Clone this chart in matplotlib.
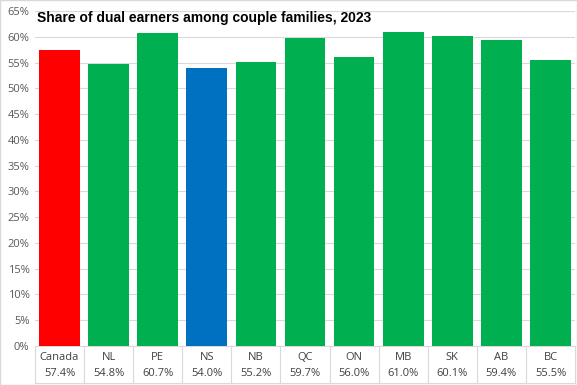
import numpy as np
import matplotlib.pyplot as plt
from matplotlib.ticker import PercentFormatter

regions = ['Canada', 'NL', 'PE', 'NS', 'NB', 'QC', 'ON', 'MB', 'SK', 'AB', 'BC']
share = [57.4, 54.8, 60.7, 54.0, 55.2, 59.7, 56.0, 61.0, 60.1, 59.4, 55.5]

colors = ['#00B050'] * len(regions)
colors[0] = '#FF0000'
colors[3] = '#0070C0'

plt.rcParams['font.family'] = ['Open Sans', 'DejaVu Sans']

fig = plt.figure(figsize=(5.77, 3.85), dpi=100)
ax = fig.add_axes([35 / 577, 1 - 346 / 385, 540 / 577, 335 / 385])

x = np.arange(len(regions))
ax.bar(x, share, width=0.83, color=colors, zorder=3)

ax.set_xlim(-0.5, len(regions) - 0.5)
ax.set_ylim(0, 65)
ax.set_yticks(np.arange(0, 66, 5))
ax.yaxis.set_major_formatter(PercentFormatter(decimals=0))
ax.tick_params(axis='y', length=0, labelsize=8, labelcolor='#595959', pad=4)
ax.set_xticks([])
ax.grid(axis='y', color='#D9D9D9', linewidth=0.8, zorder=0)
for s in ['top', 'right', 'left']:
    ax.spines[s].set_visible(False)
ax.spines['bottom'].set_color('#D9D9D9')

# data table under the bars
tb = -37 / 335
for i in range(len(regions) + 1):
    ax.plot([i - 0.5, i - 0.5], [0, tb], transform=ax.get_xaxis_transform(),
            color='#D9D9D9', linewidth=0.8, clip_on=False)
ax.plot([-0.5, len(regions) - 0.5], [tb, tb], transform=ax.get_xaxis_transform(),
        color='#D9D9D9', linewidth=0.8, clip_on=False)
for i, (r, v) in enumerate(zip(regions, share)):
    ax.text(i, -11 / 335, r, transform=ax.get_xaxis_transform(), ha='center',
            va='center', fontsize=8, color='#404040')
    ax.text(i, -27 / 335, f'{v:.1f}%', transform=ax.get_xaxis_transform(),
            ha='center', va='center', fontsize=8, color='#404040')

fig.text(37 / 577, 1 - 18 / 385, 'Share of dual earners among couple families, 2023',
         fontsize=10, fontweight='bold', va='center', ha='left', color='black',
         family=['Liberation Sans', 'DejaVu Sans'])

fig.patches.append(plt.Rectangle((0, 0), 1, 1, transform=fig.transFigure,
                                 fill=False, edgecolor='#D9D9D9', linewidth=1))

fig.savefig('out.png', dpi=100)
